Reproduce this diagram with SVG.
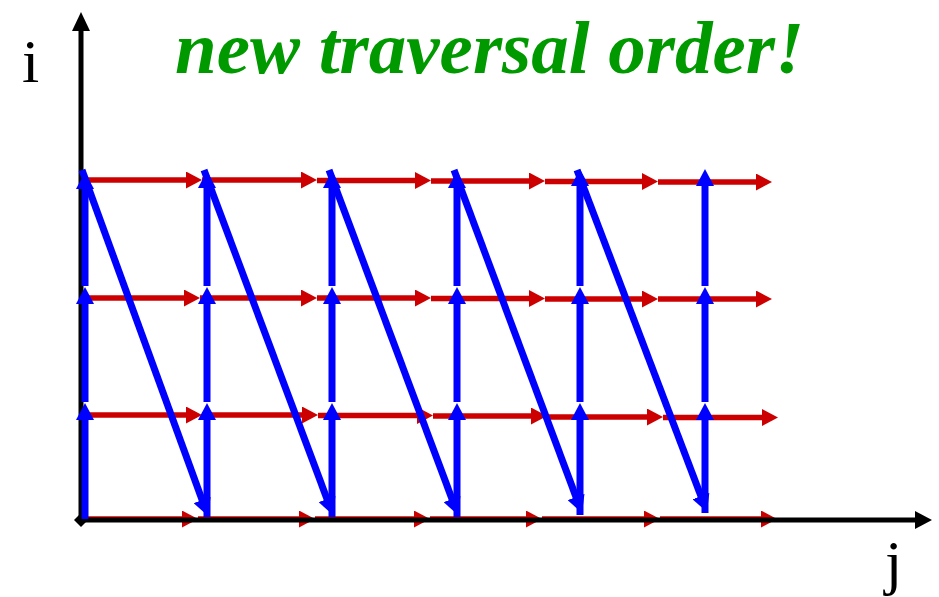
<svg xmlns="http://www.w3.org/2000/svg" width="939" height="597" viewBox="0 0 939 597">
<style>
.red{stroke:#CC0000;stroke-width:5.5;fill:none;marker-end:url(#ra)}
.blue{stroke:#0000FF;stroke-width:7;fill:none;marker-end:url(#ba)}
.axis{stroke:#000;stroke-width:5;fill:none}
.lbl{font-family:"Liberation Serif","Times New Roman",serif;font-size:62px;fill:#000}
.title{font-family:"Liberation Serif","Times New Roman",serif;font-size:75px;font-weight:bold;font-style:italic;fill:#009900}
</style>
<defs>
<marker id="ra" viewBox="0 0 16 17" refX="1" refY="8.5" markerWidth="16" markerHeight="17" markerUnits="userSpaceOnUse" orient="auto"><path d="M0,0 L16,8.5 L0,17 z" fill="#CC0000"/></marker>
<marker id="ba" viewBox="0 0 17 18" refX="1" refY="9" markerWidth="17" markerHeight="18" markerUnits="userSpaceOnUse" orient="auto"><path d="M0,0 L17,9 L0,18 z" fill="#0000FF"/></marker>
</defs>
<g id="title"><text class="title" x="175" y="73">new traversal order!</text></g>
<g id="label-i"><text class="lbl" x="22" y="82">i</text></g>
<g id="label-j"><text class="lbl" x="885" y="583">j</text></g>
<g id="connectors">
<g id="red-rows">
<line class="red" x1="85" y1="180" x2="187" y2="180"/>
<line class="red" x1="202" y1="180" x2="302" y2="180"/>
<line class="red" x1="317" y1="180.5" x2="416" y2="180.5"/>
<line class="red" x1="431" y1="181" x2="530" y2="181"/>
<line class="red" x1="545" y1="181.5" x2="643" y2="181.5"/>
<line class="red" x1="658" y1="182" x2="757" y2="182"/>
<line class="red" x1="85" y1="298" x2="185" y2="298"/>
<line class="red" x1="200" y1="298" x2="302" y2="298"/>
<line class="red" x1="317" y1="298" x2="416" y2="298"/>
<line class="red" x1="431" y1="298.5" x2="530" y2="298.5"/>
<line class="red" x1="545" y1="299" x2="643" y2="299"/>
<line class="red" x1="658" y1="299" x2="757" y2="299"/>
<line class="red" x1="85" y1="415" x2="187" y2="415"/>
<line class="red" x1="202" y1="415" x2="303" y2="415"/>
<line class="red" x1="318" y1="415.5" x2="418" y2="415.5"/>
<line class="red" x1="433" y1="416" x2="532" y2="416"/>
<line class="red" x1="547" y1="417" x2="648" y2="417"/>
<line class="red" x1="663" y1="417.5" x2="763" y2="417.5"/>
<line class="red" x1="85" y1="519" x2="183" y2="519"/>
<line class="red" x1="198" y1="519" x2="300" y2="519"/>
<line class="red" x1="315" y1="519" x2="415" y2="519"/>
<line class="red" x1="430" y1="519" x2="527" y2="519"/>
<line class="red" x1="542" y1="519" x2="645" y2="519"/>
<line class="red" x1="660" y1="519" x2="762" y2="519"/>
</g>
<g id="axes">
<line class="axis" x1="81" y1="522" x2="81" y2="28"/>
<polygon points="72,31 81,12 90,31" fill="#000"/>
<line class="axis" x1="79" y1="520" x2="917" y2="520"/>
<polygon points="915,511 932,520 915,529" fill="#000"/>
<polygon points="81,513 88,520 81,527 74,520" fill="#000"/>
</g>
<g id="blue-verticals">
<line class="blue" x1="85" y1="519" x2="85" y2="419"/>
<line class="blue" x1="85" y1="402" x2="85" y2="303"/>
<line class="blue" x1="85" y1="286" x2="85" y2="188"/>
<line class="blue" x1="207" y1="517" x2="207" y2="419"/>
<line class="blue" x1="207" y1="402" x2="207" y2="303"/>
<line class="blue" x1="207" y1="286" x2="207" y2="187"/>
<line class="blue" x1="332" y1="517" x2="332" y2="419"/>
<line class="blue" x1="332" y1="402" x2="332" y2="303"/>
<line class="blue" x1="332" y1="286" x2="332" y2="187"/>
<line class="blue" x1="457" y1="517" x2="457" y2="419"/>
<line class="blue" x1="457" y1="402" x2="457" y2="303"/>
<line class="blue" x1="457" y1="286" x2="457" y2="187"/>
<line class="blue" x1="580" y1="515" x2="580" y2="419"/>
<line class="blue" x1="580" y1="402" x2="580" y2="303"/>
<line class="blue" x1="580" y1="286" x2="580" y2="185"/>
<line class="blue" x1="705" y1="513" x2="705" y2="419"/>
<line class="blue" x1="705" y1="402" x2="705" y2="303"/>
<line class="blue" x1="705" y1="286" x2="705" y2="185"/>
</g>
<g id="blue-diagonals">
<line class="blue" x1="82" y1="170" x2="202.5" y2="501"/>
<line class="blue" x1="204" y1="170" x2="327.4" y2="500"/>
<line class="blue" x1="329" y1="170" x2="452.4" y2="500"/>
<line class="blue" x1="454" y1="170" x2="576.4" y2="498"/>
<line class="blue" x1="577" y1="170" x2="701.3" y2="497"/>
</g>
</g>
</svg>
